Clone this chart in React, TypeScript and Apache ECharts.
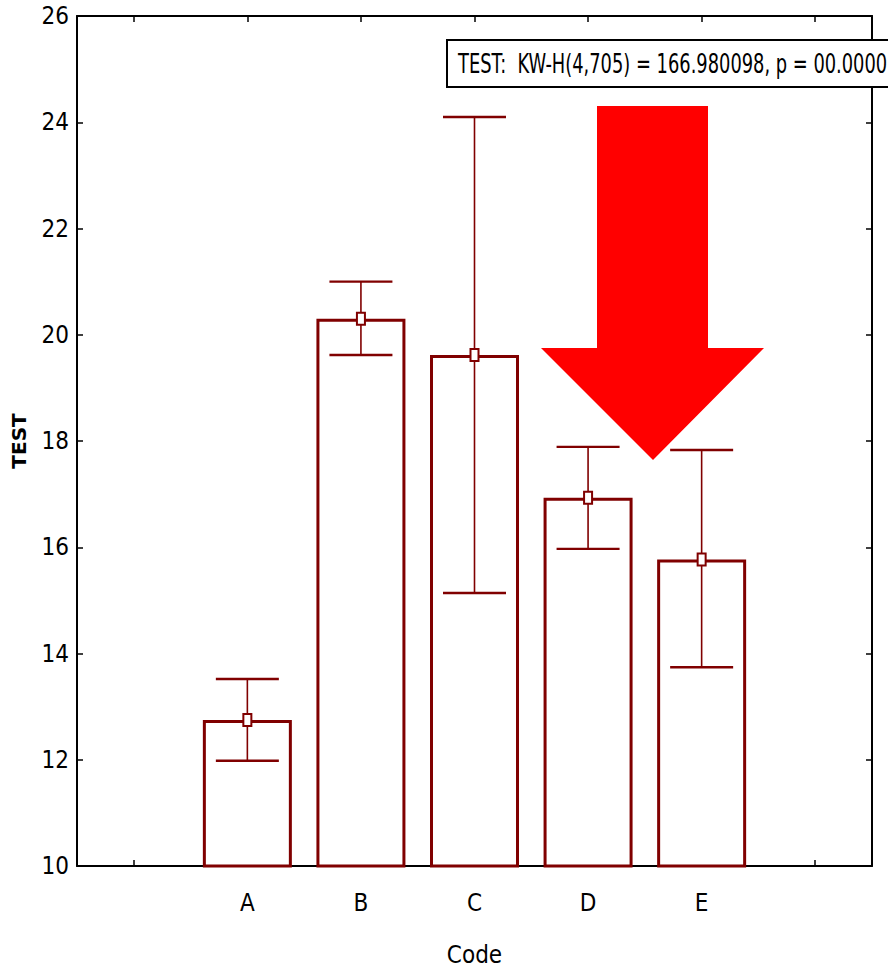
import React, { useEffect, useRef } from "react";
import * as echarts from "echarts";

const categories = ["", "A", "B", "C", "D", "E", ""];
const means = [null, 12.75, 20.3, 19.62, 16.93, 15.77, null];
const upper = [null, 13.52, 21.0, 24.1, 17.89, 17.83, null];
const lower = [null, 11.98, 19.62, 15.14, 15.97, 13.74, null];
const yTicks = { min: 10, max: 26, interval: 2 };
const statText = "TEST:  KW-H(4,705) = 166.980098, p = 00.0000";

const DARK = "#800000";
const FONT = "'DejaVu Sans Condensed', 'Liberation Sans', sans-serif";

export default function App() {
  const ref = useRef<HTMLDivElement>(null);
  useEffect(() => {
    document.body.style.margin = "0";
    const chart = echarts.init(ref.current!, null, { renderer: "svg" });
    const errData = categories
      .map((c, i) => (means[i] == null ? null : [i, lower[i], upper[i], means[i]]))
      .filter((d) => d != null);
    const axisBase = {
      axisLine: { show: true, lineStyle: { color: "#000", width: 2 } },
      splitLine: { show: false },
    };
    const tick = { show: true, inside: true, length: 6, lineStyle: { color: "#000", width: 1.5 } };
    chart.setOption({
      animation: false,
      backgroundColor: "#fff",
      grid: { left: 77, right: 16, top: 16, bottom: 103, outerBoundsMode: "none", containLabel: false },
      xAxis: [
        {
          ...axisBase,
          type: "category",
          data: categories,
          boundaryGap: true,
          position: "bottom",
          axisTick: { ...tick, alignWithLabel: true },
          axisLabel: { color: "#000", fontSize: 24, fontFamily: FONT, margin: 25, interval: 0 },
          name: "Code",
          nameLocation: "middle",
          nameGap: 77,
          nameTextStyle: { color: "#000", fontSize: 24, fontFamily: FONT, verticalAlign: "top" },
        },
        {
          ...axisBase,
          type: "category",
          data: categories,
          boundaryGap: true,
          position: "top",
          axisTick: { ...tick, alignWithLabel: true },
          axisLabel: { show: false },
        },
      ],
      yAxis: [
        {
          ...axisBase,
          type: "value",
          min: yTicks.min,
          max: yTicks.max,
          interval: yTicks.interval,
          position: "left",
          axisTick: tick,
          axisLabel: { color: "#000", fontSize: 24, fontFamily: FONT, margin: 8 },
          name: "TEST",
          nameLocation: "middle",
          nameGap: 48,
          nameRotate: 90,
          nameTextStyle: { color: "#000", fontSize: 20, fontWeight: "bold", fontFamily: "'DejaVu Sans', sans-serif" },
        },
        {
          ...axisBase,
          type: "value",
          min: yTicks.min,
          max: yTicks.max,
          interval: yTicks.interval,
          position: "right",
          axisTick: tick,
          axisLabel: { show: false },
        },
      ],
      series: [
        {
          type: "bar",
          data: means.map((v) => (v == null ? "-" : v)),
          barWidth: 89,
          itemStyle: { color: "#fff", borderColor: DARK, borderWidth: 3 },
          z: 2,
        },
        {
          type: "custom",
          data: errData,
          z: 3,
          renderItem: (params: any, api: any) => {
            const x = api.value(0);
            const lo = api.coord([x, api.value(1)]);
            const hi = api.coord([x, api.value(2)]);
            const m = api.coord([x, api.value(3)]);
            const half = 31.5;
            return {
              type: "group",
              children: [
                { type: "line", shape: { x1: hi[0], y1: hi[1], x2: lo[0], y2: lo[1] }, style: { stroke: DARK, lineWidth: 1.6 } },
                { type: "line", shape: { x1: hi[0] - half, y1: hi[1], x2: hi[0] + half, y2: hi[1] }, style: { stroke: DARK, lineWidth: 2.4 } },
                { type: "line", shape: { x1: lo[0] - half, y1: lo[1], x2: lo[0] + half, y2: lo[1] }, style: { stroke: DARK, lineWidth: 2.4 } },
                { type: "rect", shape: { x: m[0] - 4, y: m[1] - 6, width: 8, height: 12 }, style: { fill: "#fff", stroke: DARK, lineWidth: 2 } },
              ],
            };
          },
        },
      ],
      graphic: [
        {
          type: "polygon",
          shape: {
            points: [
              [597, 106],
              [708, 106],
              [708, 348],
              [764, 348],
              [653, 460],
              [541, 348],
              [597, 348],
            ],
          },
          style: { fill: "#ff0000" },
          z: 10,
        },
        {
          type: "rect",
          shape: { x: 447, y: 40, width: 470, height: 47 },
          style: { fill: "#fff", stroke: "#000", lineWidth: 2 },
          z: 11,
        },
        {
          type: "text",
          x: 458,
          y: 64,
          scaleX: 0.735,
          style: { text: statText, fill: "#000", fontSize: 27, fontFamily: FONT, verticalAlign: "middle", align: "left" },
          z: 12,
        },
      ],
    });
    return () => chart.dispose();
  }, []);
  return <div ref={ref} style={{ width: 888, height: 969 }} />;
}
